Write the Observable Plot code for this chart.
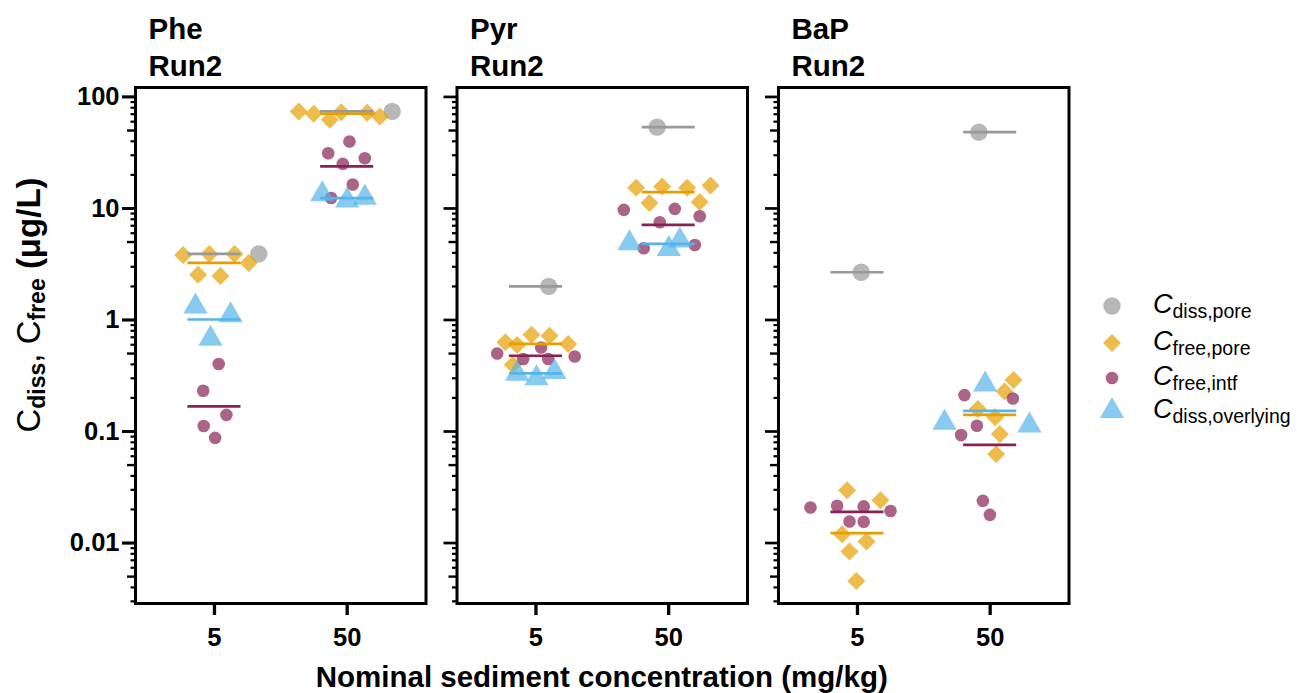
<!DOCTYPE html>
<html>
<head>
<meta charset="utf-8">
<script src="https://cdn.jsdelivr.net/npm/d3@7"></script>
<script src="https://cdn.jsdelivr.net/npm/@observablehq/plot@0.6"></script>
<style>
  html, body { margin: 0; padding: 0; background: #fff; }
  #wrap { position: relative; width: 1297px; height: 693px; font-family: "Liberation Sans", Arial, sans-serif; color: #000; }
  #wrap svg.plot { position: absolute; left: 0; top: 0; }
  .ylab { position: absolute; left: 30px; top: 305px; transform: translate(-50%, -50%) rotate(-90deg); white-space: nowrap; font-size: 33px; line-height: 1; }
  .ylab sub { font-size: 23px; font-weight: bold; vertical-align: -5px; }
  .xlab { position: absolute; left: 0; width: 1203.5px; text-align: center; top: 662px; font-size: 29.5px; font-weight: bold; line-height: 30px; white-space: nowrap; }
  .leg { position: absolute; left: 1091px; height: 36px; display: flex; align-items: center; white-space: nowrap; }
  .leg svg { width: 42px; height: 36px; margin-right: 20px; }
  .leg .t { font-size: 27px; font-style: italic; }
  .leg sub { font-size: 19.5px; font-style: normal; vertical-align: -5px; }
</style>
</head>
<body>
<div id="wrap"></div>
<script>
// ---------------- data ----------------
const panels = ["Phe", "Pyr", "BaP"];
const runLabel = "Run2";
const concLabels = ["5", "50"];
const seriesKeys = ["dissPore", "freePore", "freeIntf", "dissOverlying"];
const seriesSubs = ["diss,pore", "free,pore", "free,intf", "diss,overlying"];
const yMajorTicks = [0.01, 0.1, 1, 10, 100];
const yMajorLabels = ["0.01", "0.1", "1", "10", "100"];

// each entry: [concentration index, value (µg/L), horizontal jitter (category units)]
const phe_dissPore = [[0, 3.91, 0.334], [1, 74.1, 0.339]];
const phe_freePore = [
  [0, 3.83, -0.236], [0, 3.91, -0.038], [0, 3.91, 0.151], [0, 3.25, 0.258], [0, 2.55, -0.123], [0, 2.48, 0.045],
  [1, 74.1, -0.365], [1, 70.7, -0.252], [1, 62.4, -0.131], [1, 73.0, -0.045], [1, 72.1, 0.151], [1, 66.8, 0.246]];
const phe_freeIntf = [
  [0, 0.403, 0.032], [0, 0.232, -0.085], [0, 0.141, 0.090], [0, 0.112, -0.081], [0, 0.0877, 0.005],
  [1, 39.9, 0.017], [1, 31.3, -0.143], [1, 28.2, 0.133], [1, 25.1, -0.033], [1, 16.4, 0.042], [1, 12.4, -0.121]];
const phe_dissOverlying = [
  [0, 1.32, -0.143], [0, 1.10, 0.121], [0, 0.68, -0.030],
  [1, 13.4, -0.188], [1, 11.8, 0.000], [1, 12.5, 0.133]];
const phe_means = [[3.91, 3.25, 0.168, 1.01], [74.1, 70.7, 23.8, 12.4]];

const pyr_dissPore = [[0, 2.0, 0.096], [1, 53.6, -0.087]];
const pyr_freePore = [
  [0, 0.630, -0.230], [0, 0.597, -0.142], [0, 0.738, -0.034], [0, 0.722, 0.102], [0, 0.610, 0.243], [0, 0.397, -0.175],
  [1, 15.3, -0.245], [1, 15.7, -0.049], [1, 15.3, 0.139], [1, 16.1, 0.315], [1, 11.2, -0.145], [1, 11.4, 0.234]];
const pyr_freeIntf = [
  [0, 0.501, -0.292], [0, 0.447, -0.096], [0, 0.567, 0.039], [0, 0.447, 0.092], [0, 0.471, 0.292],
  [1, 9.71, -0.338], [1, 9.92, 0.046], [1, 8.51, 0.234], [1, 7.52, -0.067], [1, 4.40, -0.188], [1, 4.71, 0.197]];
const pyr_dissOverlying = [
  [0, 0.330, -0.142], [0, 0.301, 0.004], [0, 0.341, 0.139],
  [1, 4.87, -0.295], [1, 5.15, 0.084], [1, 4.34, 0.001]];
const pyr_means = [[2.0, 0.61, 0.478, 0.332], [53.6, 14.0, 7.13, 4.81]];

const bap_dissPore = [[0, 2.68, 0.028], [1, 48.3, -0.085]];
const bap_freePore = [
  [0, 0.0298, -0.078], [0, 0.0242, 0.173], [0, 0.0120, -0.115], [0, 0.0103, 0.068], [0, 0.00838, -0.060], [0, 0.00457, -0.008],
  [1, 0.289, 0.176], [1, 0.229, 0.108], [1, 0.159, -0.093], [1, 0.134, 0.038], [1, 0.0948, 0.073], [1, 0.0627, 0.045]];
const bap_freeIntf = [
  [0, 0.0208, -0.354], [0, 0.0216, -0.153], [0, 0.0213, 0.047], [0, 0.0194, 0.249], [0, 0.0156, -0.060], [0, 0.0155, 0.047],
  [1, 0.212, -0.194], [1, 0.198, 0.171], [1, 0.1125, -0.100], [1, 0.0929, -0.219], [1, 0.0239, -0.055], [1, 0.0179, -0.002]];
const bap_dissOverlying = [
  [1, 0.264, -0.038], [1, 0.120, -0.344], [1, 0.113, 0.296]];
const bap_means = [[2.68, 0.01225, 0.0190, null], [48.3, 0.141, 0.076, 0.153]];

// ---------------- styling ----------------
const seriesColor = { dissPore: "#999999", freePore: "#E69F00", freeIntf: "#882255", dissOverlying: "#56B4E9" };
const seriesSymbol = { dissPore: "circle", freePore: "diamond2", freeIntf: "circle", dissOverlying: "triangle" };
const seriesR = { dissPore: 8.7, freePore: 8.1, freeIntf: 6.3, dissOverlying: 9 };
const meanHalfWidth = 0.2;
const legendTops = [288, 325, 360, 393];

// ---------------- build tables ----------------
const panelSets = {
  Phe: { sets: [phe_dissPore, phe_freePore, phe_freeIntf, phe_dissOverlying], means: phe_means },
  Pyr: { sets: [pyr_dissPore, pyr_freePore, pyr_freeIntf, pyr_dissOverlying], means: pyr_means },
  BaP: { sets: [bap_dissPore, bap_freePore, bap_freeIntf, bap_dissOverlying], means: bap_means }
};
const points = [];
const means = [];
for (const p of panels) {
  const ps = panelSets[p];
  ps.sets.forEach((arr, si) => {
    for (const [c, v, j] of arr) points.push({ panel: p, series: seriesKeys[si], cat: c, value: v, jitter: j });
  });
  ps.means.forEach((row, c) => row.forEach((v, si) => {
    if (v != null) means.push({ panel: p, series: seriesKeys[si], cat: c, value: v });
  }));
}
const titles = panels.map(p => ({ panel: p, label: p + "\n" + runLabel }));

// log minor ticks inside the domain
const yDomain = [0.00287, 121.5];
const yMidTicks = [], yMinorTicks = [];
for (let e = -3; e <= 2; e++) {
  for (let m = 2; m <= 9; m++) {
    const v = m * Math.pow(10, e);
    if (v < yDomain[0] || v > yDomain[1]) continue;
    (m === 5 ? yMidTicks : yMinorTicks).push(v);
  }
}

const dotMarks = seriesKeys.map(s => Plot.dot(points.filter(d => d.series === s), {
  fx: "panel", x: d => d.cat + d.jitter, y: "value",
  symbol: seriesSymbol[s], r: seriesR[s], fill: seriesColor[s], fillOpacity: 0.7, stroke: "none"
}));
const ruleMarks = seriesKeys.map(s => Plot.ruleY(means.filter(d => d.series === s), {
  fx: "panel", y: "value", x1: d => d.cat - meanHalfWidth, x2: d => d.cat + meanHalfWidth,
  stroke: seriesColor[s], strokeWidth: 2.7
}));

const chart = Plot.plot({
  width: 1297, height: 693,
  marginLeft: 135, marginRight: 228.5, marginTop: 87, marginBottom: 90,
  style: { fontFamily: "'Liberation Sans', Arial, sans-serif", fontWeight: "bold", background: "white", color: "black", overflow: "visible" },
  fx: { domain: panels, paddingInner: 0.0964, paddingOuter: 0, round: false, axis: null, label: null },
  x: { domain: [-0.595, 1.594] },
  y: { type: "log", domain: yDomain },
  marks: [
    Plot.axisY(yMinorTicks, { tickSize: 4.5, strokeWidth: 2.2, tickFormat: () => "", label: null, facetAnchor: null }),
    Plot.axisY(yMidTicks, { tickSize: 8, strokeWidth: 2.4, tickFormat: () => "", label: null, facetAnchor: null }),
    Plot.axisY(yMajorTicks, { tickSize: 13, strokeWidth: 2.7, tickFormat: () => "", label: null, facetAnchor: null }),
    Plot.axisY(yMajorTicks, { tickSize: 13, tickPadding: 3, strokeWidth: 2.7, fontSize: 25.5,
      tickFormat: d => yMajorLabels[yMajorTicks.indexOf(d)], label: null }),
    Plot.axisX([0, 1], { tickSize: 12, tickPadding: 12, strokeWidth: 3.3, fontSize: 25.5,
      tickFormat: i => concLabels[i], label: null }),
    ...dotMarks,
    ...ruleMarks,
    Plot.frame({ stroke: "black", strokeWidth: 3 }),
    Plot.text(titles, { fx: "panel", text: "label", frameAnchor: "top-left", dx: 13, dy: -75,
      textAnchor: "start", lineAnchor: "top", lineHeight: 1.254, fontSize: 29.5, fontWeight: "bold" })
  ]
});
chart.classList.add("plot");
const wrap = document.getElementById("wrap");
wrap.appendChild(chart);

// y-axis label
const yl = document.createElement("div");
yl.className = "ylab";
yl.innerHTML = 'C<sub>diss</sub>, C<sub>free</sub> <b>(μg/L)</b>';
wrap.appendChild(yl);

// x-axis label
const xl = document.createElement("div");
xl.className = "xlab";
xl.textContent = "Nominal sediment concentration (mg/kg)";
wrap.appendChild(xl);

// legend
const symType = { circle: d3.symbolCircle, diamond2: d3.symbolDiamond2, triangle: d3.symbolTriangle };
seriesKeys.forEach((s, i) => {
  const row = document.createElement("div");
  row.className = "leg";
  row.style.top = legendTops[i] + "px";
  const r = seriesR[s];
  const path = d3.symbol(symType[seriesSymbol[s]], Math.PI * r * r)();
  row.innerHTML = `<svg viewBox="-21 -18 42 36"><path d="${path}" fill="${seriesColor[s]}" fill-opacity="0.7"></path></svg>` +
    `<span class="t">C<sub>${seriesSubs[i]}</sub></span>`;
  wrap.appendChild(row);
});
</script>
</body>
</html>
